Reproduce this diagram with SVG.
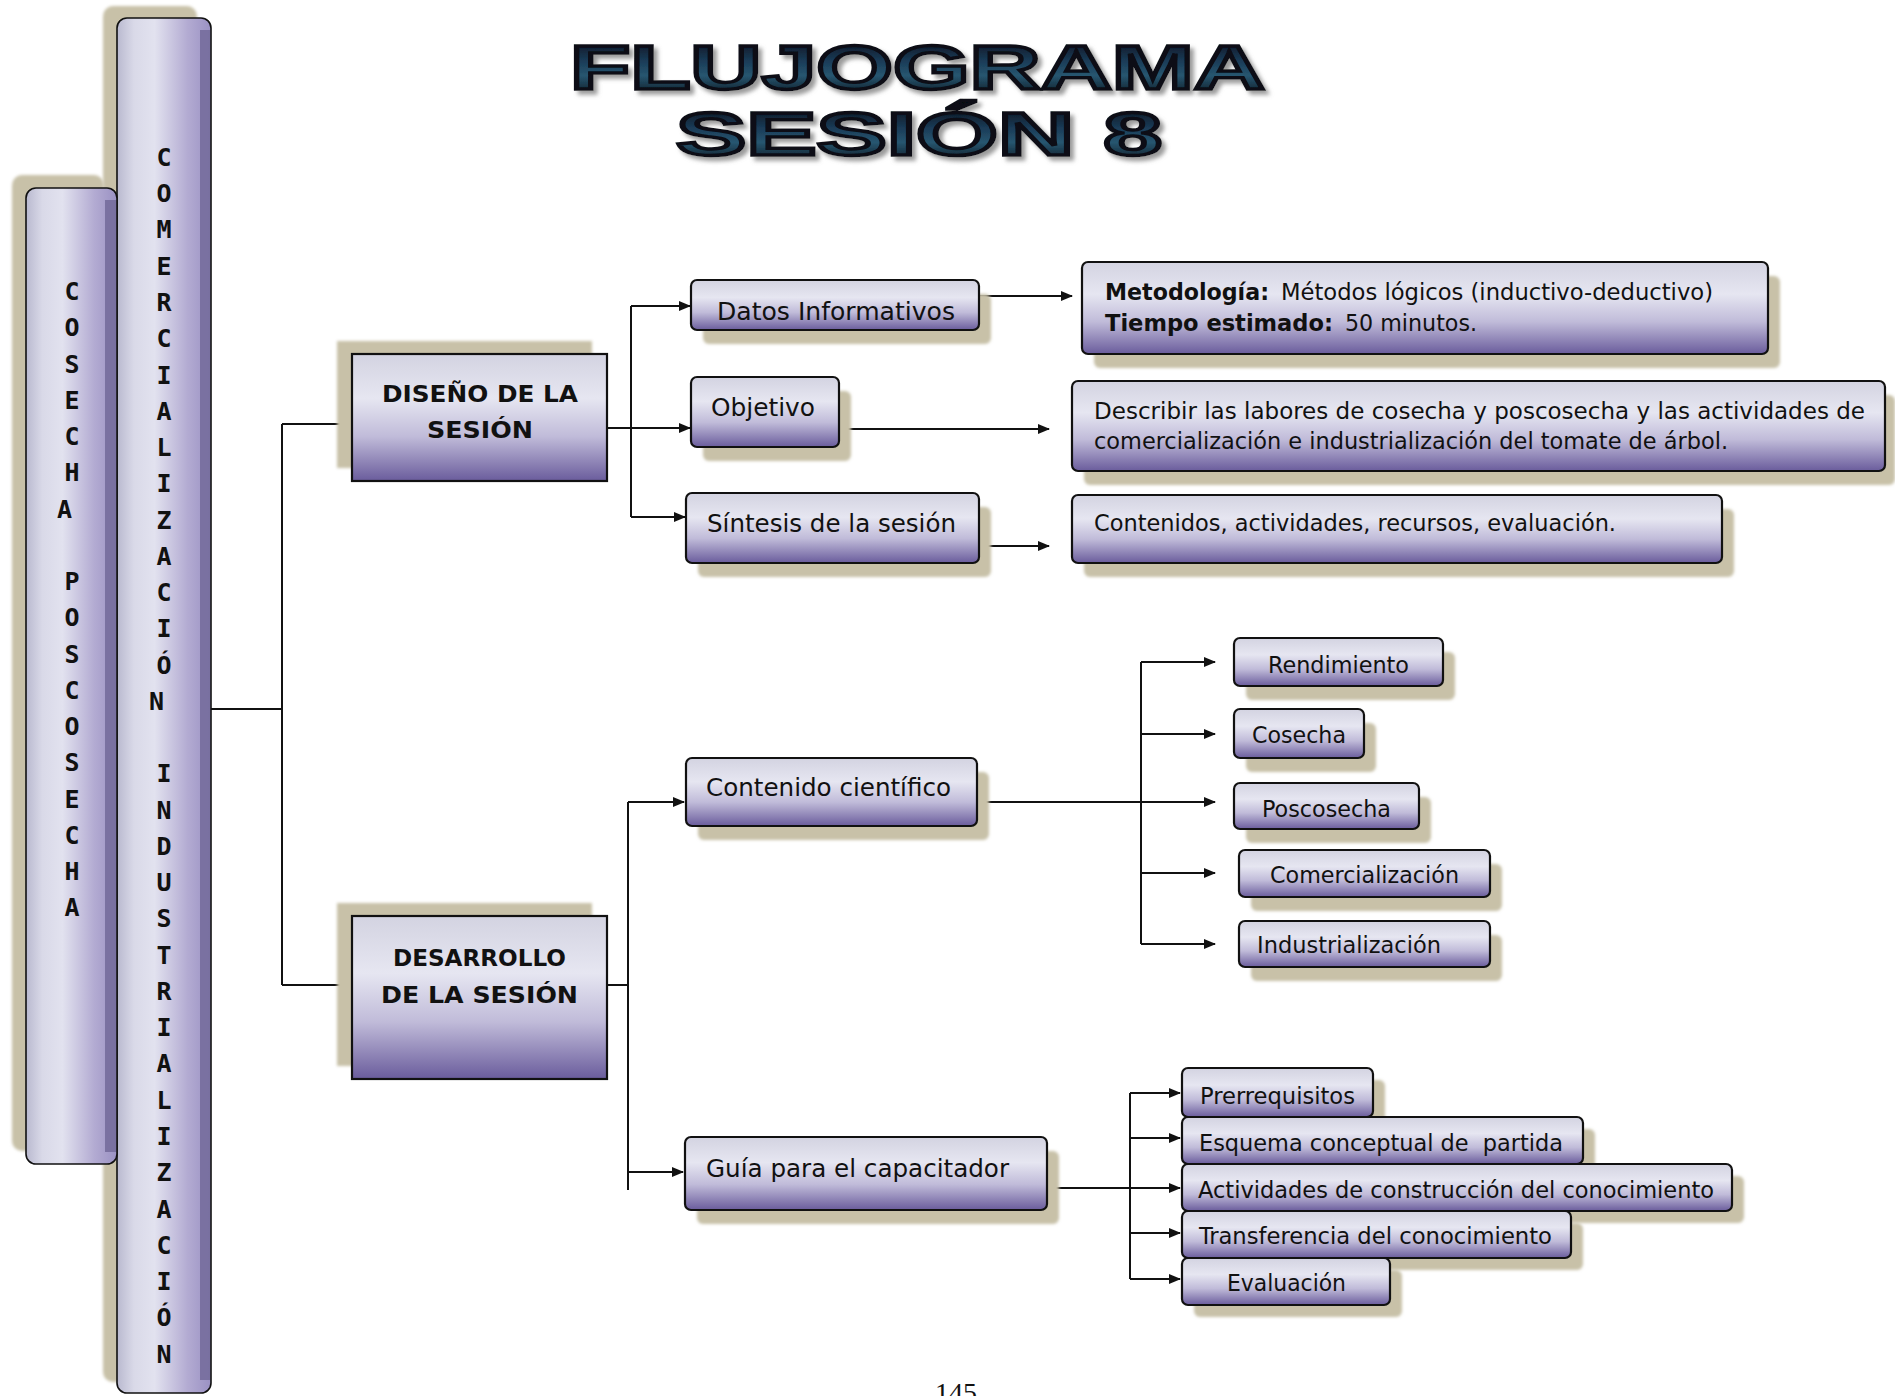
<svg xmlns="http://www.w3.org/2000/svg" width="1895" height="1396" viewBox="0 0 1895 1396">
  <defs>
    <linearGradient id="boxFill" x1="0" y1="0" x2="0" y2="1">
      <stop offset="0" stop-color="#d3d3e1"/>
      <stop offset="0.35" stop-color="#e6e6f1"/>
      <stop offset="0.65" stop-color="#c0bbd9"/>
      <stop offset="1" stop-color="#6a5c9c"/>
    </linearGradient>
    <linearGradient id="colFill" x1="0" y1="0" x2="1" y2="0">
      <stop offset="0" stop-color="#b9b9cf"/>
      <stop offset="0.18" stop-color="#d9d9e8"/>
      <stop offset="0.4" stop-color="#e2e2ef"/>
      <stop offset="0.75" stop-color="#b3abd2"/>
      <stop offset="1" stop-color="#9a91c3"/>
    </linearGradient>
    <linearGradient id="titleFill" x1="0" y1="0" x2="0" y2="1">
      <stop offset="0" stop-color="#05060b"/>
      <stop offset="0.4" stop-color="#1a3a56"/>
      <stop offset="0.62" stop-color="#275670"/>
      <stop offset="1" stop-color="#05060b"/>
    </linearGradient>
    <filter id="soft" x="-10%" y="-10%" width="120%" height="120%">
      <feGaussianBlur stdDeviation="1.5"/>
    </filter>
    <!-- grey drop shadow behind the heading letters -->
    <filter id="dropShadow" x="-5%" y="-20%" width="110%" height="150%">
      <feGaussianBlur in="SourceAlpha" stdDeviation="2"/>
      <feOffset dx="4" dy="4" result="blur"/>
      <feFlood flood-color="#8a8a8a" flood-opacity="0.85"/>
      <feComposite in2="blur" operator="in" result="shade"/>
      <feMerge>
        <feMergeNode in="shade"/>
        <feMergeNode in="SourceGraphic"/>
      </feMerge>
    </filter>
    <marker id="arrow" markerWidth="12" markerHeight="10" refX="11" refY="5" orient="auto" markerUnits="userSpaceOnUse">
      <path d="M0,0 L12,5 L0,10 Z" fill="#111"/>
    </marker>
  </defs>
  <style>
    .box{fill:url(#boxFill);stroke:#111;stroke-width:2.2}
    .shadow{fill:#c8c1a8;filter:url(#soft)}
    .col{fill:url(#colFill);stroke:#111;stroke-width:1.6}
    .colEdge{fill:#756d9c;opacity:0.9}
    .lbl{font-family:"DejaVu Sans Condensed","DejaVu Sans",sans-serif;font-size:25px;fill:#111;white-space:pre}
    .sm{font-size:23px}
    .b{font-weight:bold}
    .hand{font-family:"Comic Sans MS","DejaVu Sans",sans-serif;font-weight:bold;font-size:23px;fill:#111}
    .vert{font-family:"DejaVu Sans Mono","DejaVu Sans",monospace;font-weight:bold;font-size:25px;fill:#111;text-anchor:middle}
    .title{font-family:"Liberation Sans","DejaVu Sans",sans-serif;font-weight:bold;fill:url(#titleFill);stroke:#080c14;stroke-width:3.5;stroke-linejoin:miter;filter:url(#dropShadow)}
    .conn{fill:none;stroke:#111;stroke-width:2}
    .arr{marker-end:url(#arrow)}
    .page{font-family:"Liberation Serif",serif;font-size:28px;fill:#111;text-anchor:middle}
  </style>

  <rect width="1895" height="1396" fill="#ffffff"/>

  <!-- heading -->
  <g id="title">
    <text class="title" x="570" y="89.2" font-size="63.5" textLength="695" lengthAdjust="spacingAndGlyphs">FLUJOGRAMA</text>
    <text class="title" x="676" y="155.2" font-size="60.5" textLength="486" lengthAdjust="spacingAndGlyphs">SESIÓN 8</text>
  </g>

  <!-- vertical bar: COMERCIALIZACIÓN INDUSTRIALIZACIÓN -->
  <g id="bar-comercializacion">
    <rect class="shadow" x="103" y="6" width="94" height="1376" rx="10"/>
    <rect class="col" x="117" y="18" width="94" height="1375" rx="10"/>
    <rect class="colEdge" x="200" y="30" width="10" height="1350"/>
    <text class="vert">
      <tspan x="164" y="166">C</tspan><tspan x="164" y="202">O</tspan><tspan x="164" y="238">M</tspan><tspan x="164" y="275">E</tspan><tspan x="164" y="311">R</tspan><tspan x="164" y="347">C</tspan><tspan x="164" y="384">I</tspan><tspan x="164" y="420">A</tspan><tspan x="164" y="456">L</tspan><tspan x="164" y="492">I</tspan><tspan x="164" y="529">Z</tspan><tspan x="164" y="565">A</tspan><tspan x="164" y="601">C</tspan><tspan x="164" y="637">I</tspan><tspan x="164" y="674">Ó</tspan><tspan x="164" y="710">N</tspan>
      <tspan x="164" y="782">I</tspan><tspan x="164" y="819">N</tspan><tspan x="164" y="855">D</tspan><tspan x="164" y="891">U</tspan><tspan x="164" y="927">S</tspan><tspan x="164" y="964">T</tspan><tspan x="164" y="1000">R</tspan><tspan x="164" y="1036">I</tspan><tspan x="164" y="1072">A</tspan><tspan x="164" y="1109">L</tspan><tspan x="164" y="1145">I</tspan><tspan x="164" y="1181">Z</tspan><tspan x="164" y="1218">A</tspan><tspan x="164" y="1254">C</tspan><tspan x="164" y="1290">I</tspan><tspan x="164" y="1326">Ó</tspan><tspan x="164" y="1363">N</tspan>
    </text>
  </g>

  <!-- vertical bar: COSECHA POSCOSECHA -->
  <g id="bar-cosecha">
    <rect class="shadow" x="12" y="175" width="92" height="976" rx="10"/>
    <rect class="col" x="26" y="188" width="91" height="976" rx="10"/>
    <rect class="colEdge" x="105" y="200" width="11" height="952"/>
    <text class="vert">
      <tspan x="72" y="300">C</tspan><tspan x="72" y="336">O</tspan><tspan x="72" y="373">S</tspan><tspan x="72" y="409">E</tspan><tspan x="72" y="445">C</tspan><tspan x="72" y="481">H</tspan><tspan x="72" y="518">A</tspan>
      <tspan x="72" y="590">P</tspan><tspan x="72" y="626">O</tspan><tspan x="72" y="663">S</tspan><tspan x="72" y="699">C</tspan><tspan x="72" y="735">O</tspan><tspan x="72" y="771">S</tspan><tspan x="72" y="808">E</tspan><tspan x="72" y="844">C</tspan><tspan x="72" y="880">H</tspan><tspan x="72" y="916">A</tspan>
    </text>
  </g>

  <!-- connectors -->
  <g id="connectors">
    <path class="conn" d="M211,709 H282 M282,424 V985"/>
    <path class="conn arr" d="M282,424 H351"/>
    <path class="conn arr" d="M282,985 H351"/>

    <path class="conn arr" d="M607,428 H690"/>
    <path class="conn" d="M631,306 V517"/>
    <path class="conn arr" d="M631,306 H690"/>
    <path class="conn arr" d="M631,517 H685"/>
    <path class="conn arr" d="M979,296 H1072"/>
    <path class="conn arr" d="M839,429 H1049"/>
    <path class="conn arr" d="M979,546 H1049"/>

    <path class="conn" d="M607,985 H628 M628,802 V1190"/>
    <path class="conn arr" d="M628,802 H684"/>
    <path class="conn arr" d="M628,1172 H683"/>
    <path class="conn arr" d="M977,802 H1215"/>
    <path class="conn" d="M1141,662 V944"/>
    <path class="conn arr" d="M1141,662 H1215"/>
    <path class="conn arr" d="M1141,734 H1215"/>
    <path class="conn arr" d="M1141,873 H1215"/>
    <path class="conn arr" d="M1141,944 H1215"/>

    <path class="conn" d="M1047,1188 H1130 M1130,1093 V1279"/>
    <path class="conn arr" d="M1130,1093 H1180"/>
    <path class="conn arr" d="M1130,1138 H1180"/>
    <path class="conn arr" d="M1130,1188 H1180"/>
    <path class="conn arr" d="M1130,1233 H1180"/>
    <path class="conn arr" d="M1130,1279 H1180"/>
  </g>

  <!-- first level -->
  <g id="node-diseno">
    <rect class="shadow" x="337" y="341" width="255" height="127"/>
    <rect class="box" x="352" y="354" width="255" height="127"/>
    <text class="hand" x="382" y="402" textLength="196" lengthAdjust="spacingAndGlyphs">DISEÑO DE LA</text>
    <text class="hand" x="427" y="438" textLength="106" lengthAdjust="spacingAndGlyphs">SESIÓN</text>
  </g>
  <g id="node-desarrollo">
    <rect class="shadow" x="337" y="903" width="255" height="163"/>
    <rect class="box" x="352" y="916" width="255" height="163"/>
    <text class="hand" x="393" y="966" textLength="173" lengthAdjust="spacingAndGlyphs">DESARROLLO</text>
    <text class="hand" x="381" y="1003" textLength="197" lengthAdjust="spacingAndGlyphs">DE LA SESIÓN</text>
  </g>

  <!-- design branch -->
  <g id="node-datos">
    <rect class="shadow" x="703" y="294" width="288" height="50" rx="6"/>
    <rect class="box" x="691" y="280" width="288" height="50" rx="6"/>
    <text class="lbl" x="717" y="320" textLength="238" lengthAdjust="spacingAndGlyphs">Datos Informativos</text>
  </g>
  <g id="node-objetivo">
    <rect class="shadow" x="703" y="391" width="148" height="70" rx="6"/>
    <rect class="box" x="691" y="377" width="148" height="70" rx="6"/>
    <text class="lbl" x="711" y="416" textLength="104" lengthAdjust="spacingAndGlyphs">Objetivo</text>
  </g>
  <g id="node-sintesis">
    <rect class="shadow" x="698" y="507" width="293" height="70" rx="6"/>
    <rect class="box" x="686" y="493" width="293" height="70" rx="6"/>
    <text class="lbl" x="707" y="532" textLength="249" lengthAdjust="spacingAndGlyphs">Síntesis de la sesión</text>
  </g>
  <g id="node-metodologia">
    <rect class="shadow" x="1094" y="276" width="686" height="92" rx="6"/>
    <rect class="box" x="1082" y="262" width="686" height="92" rx="6"/>
    <text class="lbl sm b" x="1105" y="300" textLength="164" lengthAdjust="spacingAndGlyphs">Metodología:</text>
    <text class="lbl sm" x="1281" y="300" textLength="432" lengthAdjust="spacingAndGlyphs">Métodos lógicos (inductivo-deductivo)</text>
    <text class="lbl sm b" x="1105" y="331" textLength="228" lengthAdjust="spacingAndGlyphs">Tiempo estimado:</text>
    <text class="lbl sm" x="1345" y="331" textLength="132" lengthAdjust="spacingAndGlyphs">50 minutos.</text>
  </g>
  <g id="node-describir">
    <rect class="shadow" x="1084" y="395" width="811" height="90" rx="6"/>
    <rect class="box" x="1072" y="381" width="813" height="90" rx="6"/>
    <text class="lbl sm" x="1094" y="419" textLength="771" lengthAdjust="spacingAndGlyphs">Describir las labores de cosecha y poscosecha y las actividades de</text>
    <text class="lbl sm" x="1094" y="449" textLength="634" lengthAdjust="spacingAndGlyphs">comercialización e industrialización del tomate de árbol.</text>
  </g>
  <g id="node-contenidos">
    <rect class="shadow" x="1084" y="509" width="650" height="68" rx="6"/>
    <rect class="box" x="1072" y="495" width="650" height="68" rx="6"/>
    <text class="lbl sm" x="1094" y="531" textLength="522" lengthAdjust="spacingAndGlyphs">Contenidos, actividades, recursos, evaluación.</text>
  </g>

  <!-- development branch -->
  <g id="node-contenido-cientifico">
    <rect class="shadow" x="698" y="772" width="291" height="68" rx="6"/>
    <rect class="box" x="686" y="758" width="291" height="68" rx="6"/>
    <text class="lbl" x="706" y="796" textLength="245" lengthAdjust="spacingAndGlyphs">Contenido científico</text>
  </g>
  <g id="node-guia">
    <rect class="shadow" x="697" y="1151" width="362" height="73" rx="6"/>
    <rect class="box" x="685" y="1137" width="362" height="73" rx="6"/>
    <text class="lbl" x="706" y="1177" textLength="303" lengthAdjust="spacingAndGlyphs">Guía para el capacitador</text>
  </g>

  <g id="node-rendimiento">
    <rect class="shadow" x="1246" y="652" width="209" height="48" rx="6"/>
    <rect class="box" x="1234" y="638" width="209" height="48" rx="6"/>
    <text class="lbl sm" x="1268" y="673" textLength="141" lengthAdjust="spacingAndGlyphs">Rendimiento</text>
  </g>
  <g id="node-cosecha">
    <rect class="shadow" x="1246" y="723" width="130" height="49" rx="6"/>
    <rect class="box" x="1234" y="709" width="130" height="49" rx="6"/>
    <text class="lbl sm" x="1252" y="743" textLength="94" lengthAdjust="spacingAndGlyphs">Cosecha</text>
  </g>
  <g id="node-poscosecha">
    <rect class="shadow" x="1246" y="797" width="185" height="46" rx="6"/>
    <rect class="box" x="1234" y="783" width="185" height="46" rx="6"/>
    <text class="lbl sm" x="1262" y="817" textLength="129" lengthAdjust="spacingAndGlyphs">Poscosecha</text>
  </g>
  <g id="node-comercializacion">
    <rect class="shadow" x="1251" y="864" width="251" height="47" rx="6"/>
    <rect class="box" x="1239" y="850" width="251" height="47" rx="6"/>
    <text class="lbl sm" x="1270" y="883" textLength="189" lengthAdjust="spacingAndGlyphs">Comercialización</text>
  </g>
  <g id="node-industrializacion">
    <rect class="shadow" x="1251" y="935" width="251" height="46" rx="6"/>
    <rect class="box" x="1239" y="921" width="251" height="46" rx="6"/>
    <text class="lbl sm" x="1257" y="953" textLength="184" lengthAdjust="spacingAndGlyphs">Industrialización</text>
  </g>

  <g id="node-prerrequisitos">
    <rect class="shadow" x="1194" y="1080" width="191" height="49" rx="6"/>
    <rect class="box" x="1182" y="1068" width="191" height="49" rx="6"/>
    <text class="lbl sm" x="1200" y="1104" textLength="155" lengthAdjust="spacingAndGlyphs">Prerrequisitos</text>
  </g>
  <g id="node-esquema">
    <rect class="shadow" x="1194" y="1129" width="401" height="47" rx="6"/>
    <rect class="box" x="1182" y="1117" width="401" height="47" rx="6"/>
    <text class="lbl sm" x="1199" y="1151" textLength="364" lengthAdjust="spacingAndGlyphs">Esquema conceptual de  partida</text>
  </g>
  <g id="node-actividades">
    <rect class="shadow" x="1194" y="1176" width="550" height="47" rx="6"/>
    <rect class="box" x="1182" y="1164" width="550" height="47" rx="6"/>
    <text class="lbl sm" x="1198" y="1198" textLength="516" lengthAdjust="spacingAndGlyphs">Actividades de construcción del conocimiento</text>
  </g>
  <g id="node-transferencia">
    <rect class="shadow" x="1194" y="1223" width="389" height="47" rx="6"/>
    <rect class="box" x="1182" y="1211" width="389" height="47" rx="6"/>
    <text class="lbl sm" x="1199" y="1244" textLength="353" lengthAdjust="spacingAndGlyphs">Transferencia del conocimiento</text>
  </g>
  <g id="node-evaluacion">
    <rect class="shadow" x="1194" y="1270" width="208" height="47" rx="6"/>
    <rect class="box" x="1182" y="1258" width="208" height="47" rx="6"/>
    <text class="lbl sm" x="1227" y="1291" textLength="119" lengthAdjust="spacingAndGlyphs">Evaluación</text>
  </g>

  <text class="page" x="956" y="1402">145</text>
</svg>
